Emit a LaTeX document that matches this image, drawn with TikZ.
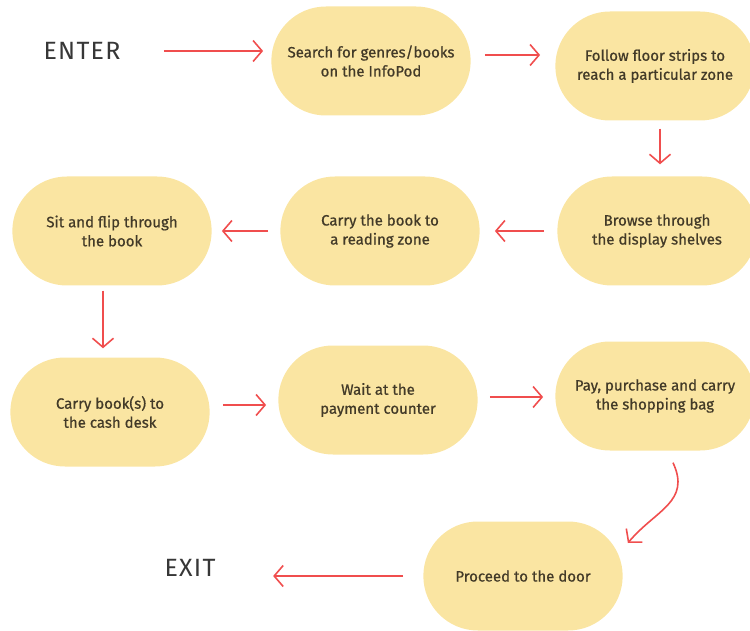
\documentclass[tikz,border=0pt]{standalone}
\usepackage{fontspec}
\setmainfont{Fira Sans}
\newfontfamily\stagefont[FakeBold=0.7]{Fira Sans}
\usepackage{tikz}
\usetikzlibrary{arrows.meta, shapes.misc, positioning}

\definecolor{padyellow}{RGB}{250,229,162}
\definecolor{flowred}{RGB}{240,78,78}
\definecolor{inkbrown}{RGB}{66,58,40}
\definecolor{inkgray}{RGB}{55,55,55}

\tikzset{
  stage/.style={
    rounded rectangle, minimum width=206pt, minimum height=109pt,
    fill=padyellow, draw=none, text centered, align=center,
    font=\stagefont\fontsize{15}{19}\selectfont, text=inkbrown
  },
  endpoint/.style={
    font=\fontsize{25}{28}\selectfont\addfontfeature{LetterSpace=5},
    text=inkgray
  },
  arrow/.style={-{Straight Barb[length=9pt, width=21pt]}, line width=1.6pt,
    color=flowred}
}

\begin{document}
\begin{tikzpicture}[x=1pt, y=-1pt]
  \useasboundingbox (0,0) rectangle (750,631);

  % top row
  \node[endpoint] (enter) at (82,51) {ENTER};
  \node[stage] (search) at (371,61) {Search for genres/books\\on the InfoPod};
  \node[stage] (follow) at (655,66) {Follow floor strips to\\reach a particular zone};

  % second row, right to left
  \node[stage] (browse) at (657,231) {Browse through\\the display shelves};
  \node[stage] (carry) at (380,231) {Carry the book to\\a reading zone};
  \node[stage] (sit) at (112,231) {Sit and flip through\\the book};

  % third row
  \node[stage] (cash) at (110,412) {Carry book(s) to\\the cash desk};
  \node[stage] (wait) at (378,400) {Wait at the\\payment counter};
  \node[stage] (pay) at (655,396) {Pay, purchase and carry\\the shopping bag};

  % way out
  \node[stage] (door) at (523,576) {Proceed to the door};
  \node[endpoint] (exit) at (190,568) {EXIT};

  \draw[arrow] ([xshift=40pt]enter.east) -- ([xshift=-8pt]search.west |- enter.east);
  \draw[arrow] ([xshift=14pt,yshift=6pt]search.east) -- ([xshift=-15pt,yshift=6pt]follow.west |- search.east);
  \draw[arrow] ([xshift=5pt,yshift=-8pt]follow.south) -- ([xshift=3pt,yshift=12pt]browse.north);
  \draw[arrow] ([xshift=-13pt]browse.west) -- ([xshift=15pt]carry.east);
  \draw[arrow] ([xshift=-12pt]carry.west) -- ([xshift=10pt]sit.east);
  \draw[arrow] ([xshift=-9pt,yshift=-5pt]sit.south) -- ([xshift=-7pt,yshift=9pt]cash.north);
  \draw[arrow] ([xshift=13pt,yshift=7pt]cash.east) -- ([xshift=-12pt,yshift=7pt]wait.west |- cash.east);
  \draw[arrow] ([xshift=12pt,yshift=3pt]wait.east) -- ([xshift=-12pt,yshift=3pt]pay.west |- wait.east);
  \draw[arrow] ([xshift=18pt,yshift=-12pt]pay.south)
    to[out=-65, in=50, looseness=1.2] ([xshift=5pt,yshift=33pt]door.east);
  \draw[arrow] ([xshift=-20pt]door.west) -- ([xshift=-150pt]door.west);
\end{tikzpicture}
\end{document}
